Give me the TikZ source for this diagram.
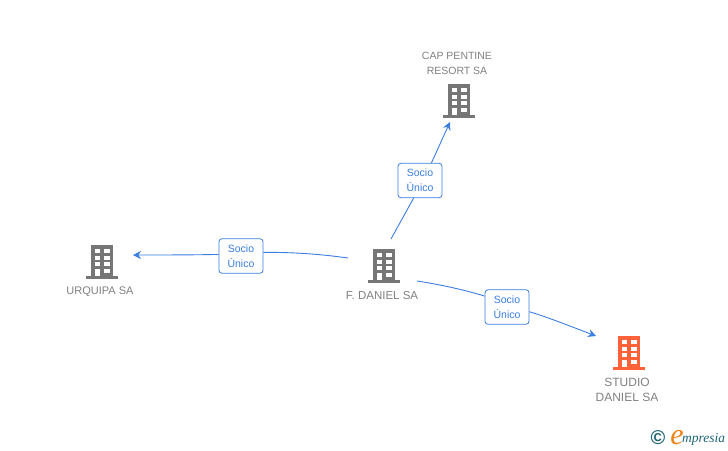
\documentclass[tikz,border=0pt]{standalone}
\usepackage{fontspec}
\setmainfont{Liberation Sans}
\newfontfamily\logofont{Liberation Serif}
\usetikzlibrary{arrows.meta}
\definecolor{iconGray}{RGB}{118,118,118}
\definecolor{iconRed}{RGB}{255,97,56}
\definecolor{labelGray}{RGB}{128,128,128}
\definecolor{linkBlue}{RGB}{58,126,224}
\definecolor{logoTeal}{RGB}{30,100,120}
\definecolor{logoOrange}{RGB}{240,130,20}
\tikzset{
  pics/building/.style={code={
    \fill[#1] (-11,-17) rectangle (11,14);
    \fill[#1] (-16,14) rectangle (16,17);
    \fill[white] (-7.3,-13) rectangle (-2.3,-9);
    \fill[white] (2.3,-13) rectangle (7.7,-9);
    \fill[white] (-7.3,-6.3) rectangle (-2.3,-2.3);
    \fill[white] (2.3,-6.3) rectangle (7.7,-2.3);
    \fill[white] (-7.3,0.3) rectangle (-2.3,4.3);
    \fill[white] (2.3,0.3) rectangle (7.7,4.3);
    \fill[white] (-7,6.7) rectangle (-2.3,14);
    \fill[white] (2.3,6.7) rectangle (7.7,11);
  }},
  company/.style={inner sep=0pt,align=center,text=labelGray,font=\fontsize{10.5}{15}\selectfont},
  socio/.style={draw=linkBlue,fill=white,rounded corners=3pt,line width=0.8pt,text=linkBlue,
    minimum width=44,minimum height=34.5,inner sep=0pt,align=center,font=\fontsize{10.5}{15}\selectfont},
  link/.style={draw=linkBlue,line width=0.9pt},
  linkarrow/.style={link,-{Stealth[length=8pt,width=8pt]}},
}
\begin{document}
\begin{tikzpicture}[x=1pt,y=1pt,yscale=-1,xscale=1]
\useasboundingbox (0,0) rectangle (728,450);

%Buildings
\pic [transform shape] at (459,101) {building=iconGray};
\pic [transform shape] at (102,262) {building=iconGray};
\pic [transform shape] at (384,266) {building=iconGray};
\pic [transform shape] at (629,353) {building=iconRed};

% Text Node
\node (cappentine) [company] at (457,63) {CAP PENTINE\\RESORT SA};
\node (urquipa) [company,font=\fontsize{11}{15}\selectfont] at (100,292) {URQUIPA SA};
\node (fdaniel) [company,font=\fontsize{11.5}{15}\selectfont] at (382,296) {F. DANIEL SA};
\node (studio) [company,font=\fontsize{12}{15}\selectfont] at (627,390) {STUDIO\\DANIEL SA};

%Badges
\node (socioTop) [socio] at (420,180.5) {Socio\\Único};
\node (socioLeft) [socio] at (241,256) {Socio\\Único};
\node (socioRight) [socio] at (507,307) {Socio\\Único};

%Free ends
\coordinate (capEnd) at (450,122);
\coordinate (urquipaEnd) at (133,255);
\coordinate (studioEnd) at (596,336);
\coordinate (danielTop) at (391,239);
\coordinate (danielLeft) at (348,258);
\coordinate (danielRight) at (417,281);

%Straight Lines
\draw [link] (danielTop) -- (socioTop.-110);
\draw [linkarrow] (socioTop.57) -- (capEnd);
\draw [link] (danielLeft) .. controls (320,254) and (290,252) .. (socioLeft.9);
\draw [linkarrow] (socioLeft.176) .. controls (190,255) and (160,255) .. (urquipaEnd);
\draw [link] (danielRight) .. controls (440,284.5) and (465,290) .. (socioRight.154);
\draw [linkarrow] (socioRight.-12) .. controls (550,318) and (575,328) .. (studioEnd);

% Logo
\node (copyright) [inner sep=0pt,text=logoTeal,font=\bfseries\fontsize{20}{20}\selectfont] at (658,438) {©};
\node (logoE) [inner sep=0pt,text=logoOrange,font=\logofont\itshape\fontsize{30}{30}\selectfont] at (677,438) {e};
\node (logoRest) [inner sep=0pt,anchor=west,text=logoTeal,font=\logofont\itshape\fontsize{13.5}{13.5}\selectfont] at (682,439) {mpresia};
\end{tikzpicture}
\end{document}
